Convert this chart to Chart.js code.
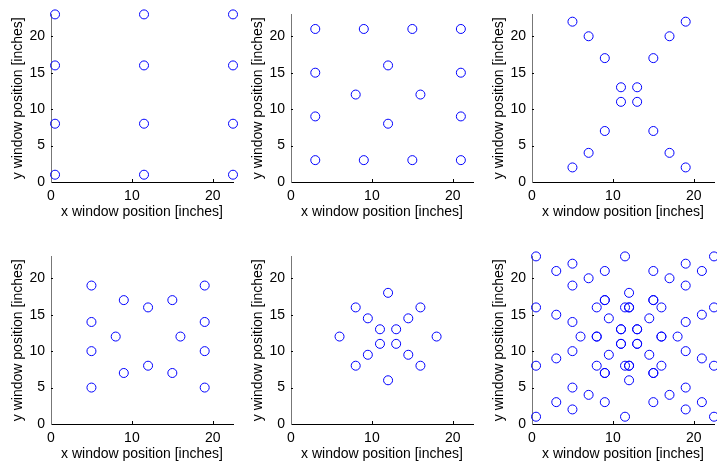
<!DOCTYPE html>
<html>
<head>
<meta charset="utf-8">
<script src="https://cdn.jsdelivr.net/npm/chart.js@4/dist/chart.umd.min.js"></script>
<style>
  html, body { margin: 0; padding: 0; background: #fff; overflow: hidden; }
  body { width: 717px; height: 466px; position: relative; }
  canvas { position: absolute; }
</style>
</head>
<body>
<canvas id="p1" width="240" height="233" style="left:0px;top:0px"></canvas>
<canvas id="p2" width="240" height="233" style="left:240px;top:0px"></canvas>
<canvas id="p3" width="240" height="233" style="left:481px;top:0px"></canvas>
<canvas id="p4" width="240" height="233" style="left:0px;top:242px"></canvas>
<canvas id="p5" width="240" height="233" style="left:240px;top:242px"></canvas>
<canvas id="p6" width="240" height="233" style="left:481px;top:242px"></canvas>
<script>
// window layouts, x / y positions in inches
const gridX = [0.5, 0.5, 0.5, 0.5, 11.5, 11.5, 11.5, 11.5, 22.5, 22.5, 22.5, 22.5];
const gridY = [23, 16, 8, 1, 23, 16, 8, 1, 23, 16, 8, 1];

const ringX = [3, 9, 15, 21, 3, 21, 3, 21, 3, 9, 15, 21, 12, 8, 16, 12];
const ringY = [3, 3, 3, 3, 9, 9, 15, 15, 21, 21, 21, 21, 16, 12, 12, 8];

const crossX = [5, 7, 9, 11, 13, 15, 17, 19, 5, 7, 9, 11, 13, 15, 17, 19];
const crossY = [22, 20, 17, 13, 13, 17, 20, 22, 2, 4, 7, 11, 11, 7, 4, 2];

const frameX = [5, 5, 5, 5, 19, 19, 19, 19, 9, 12, 15, 8, 16, 9, 12, 15];
const frameY = [19, 14, 10, 5, 19, 14, 10, 5, 17, 16, 17, 12, 12, 7, 8, 7];

const starX = [12, 8, 16, 9.5, 14.5, 11, 13, 6, 18, 11, 13, 9.5, 14.5, 8, 16, 12];
const starY = [18, 16, 16, 14.5, 14.5, 13, 13, 12, 12, 11, 11, 9.5, 9.5, 8, 8, 6];

// last panel shows every layout together
const allX = gridX.concat(ringX, crossX, frameX, starX);
const allY = gridY.concat(ringY, crossY, frameY, starY);

const xTickValues = [0, 10, 20];
const yTickValues = [0, 5, 10, 15, 20];
const xMax = 22.5;
const yMax = 23;

const axisFont = { family: 'Liberation Sans, Arial, sans-serif', size: 14 };

// small MATLAB-style ticks pointing into the plot
const inwardTicks = {
    id: 'inwardTicks',
    afterDraw(chart) {
        const { ctx, chartArea, scales } = chart;
        ctx.save();
        ctx.strokeStyle = '#000';
        ctx.lineWidth = 1;
        xTickValues.slice(1).forEach(v => {
            const px = Math.round(scales.x.getPixelForValue(v)) + 0.5;
            ctx.beginPath();
            ctx.moveTo(px, chartArea.bottom);
            ctx.lineTo(px, chartArea.bottom - 3);
            ctx.stroke();
        });
        yTickValues.slice(1).forEach(v => {
            const py = Math.round(scales.y.getPixelForValue(v)) + 0.5;
            ctx.beginPath();
            ctx.moveTo(chartArea.left, py);
            ctx.lineTo(chartArea.left + 2, py);
            ctx.stroke();
        });
        ctx.restore();
    }
};

function toPoints(xs, ys) {
    return xs.map((x, i) => ({ x: x, y: ys[i] }));
}

function createScatterConfig(xs, ys) {
    return {
        type: 'scatter',
        data: {
            datasets: [{
                data: toPoints(xs, ys),
                pointStyle: 'circle',
                pointRadius: 4.5,
                pointBorderWidth: 1,
                pointBorderColor: '#0000ff',
                pointBackgroundColor: 'rgba(0,0,0,0)',
                clip: false
            }]
        },
        options: {
            responsive: false,
            animation: false,
            layout: { padding: { top: 8, right: 7, left: 0, bottom: 0 } },
            plugins: { legend: { display: false }, tooltip: { enabled: false } },
            scales: {
                x: {
                    type: 'linear',
                    min: 0,
                    max: xMax,
                    afterBuildTicks: s => { s.ticks = xTickValues.map(v => ({ value: v })); },
                    afterFit: s => { s.height = 51; },
                    grid: { display: false, drawTicks: false },
                    border: { display: true, color: '#000', width: 1 },
                    ticks: { color: '#000', font: axisFont, padding: 6, maxRotation: 0 },
                    title: {
                        display: true,
                        text: 'x window position [inches]',
                        color: '#000',
                        font: axisFont,
                        padding: { top: 0, bottom: 12 }
                    }
                },
                y: {
                    type: 'linear',
                    min: 0,
                    max: yMax,
                    afterBuildTicks: s => { s.ticks = yTickValues.map(v => ({ value: v })); },
                    afterFit: s => { s.width = 51; },
                    grid: { display: false, drawTicks: false },
                    border: { display: true, color: '#777', width: 1 },
                    ticks: { color: '#000', font: axisFont, padding: 6 },
                    title: {
                        display: true,
                        text: 'y window position [inches]',
                        color: '#000',
                        font: axisFont,
                        padding: { top: 10, bottom: 0 }
                    }
                }
            }
        },
        plugins: [inwardTicks]
    };
}

new Chart(document.getElementById('p1').getContext('2d'), createScatterConfig(gridX, gridY));
new Chart(document.getElementById('p2').getContext('2d'), createScatterConfig(ringX, ringY));
new Chart(document.getElementById('p3').getContext('2d'), createScatterConfig(crossX, crossY));
new Chart(document.getElementById('p4').getContext('2d'), createScatterConfig(frameX, frameY));
new Chart(document.getElementById('p5').getContext('2d'), createScatterConfig(starX, starY));
new Chart(document.getElementById('p6').getContext('2d'), createScatterConfig(allX, allY));
</script>
</body>
</html>
